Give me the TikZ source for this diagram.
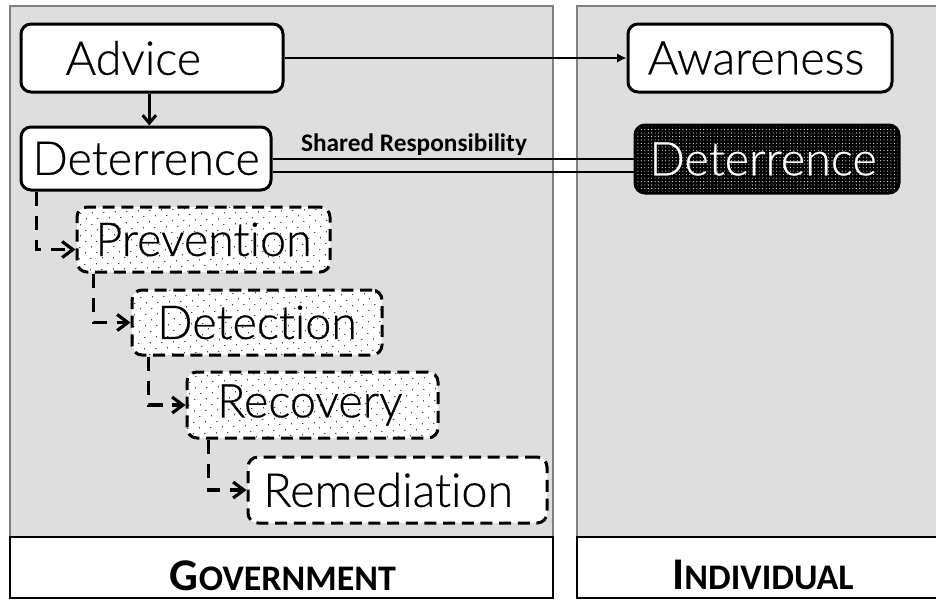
\documentclass[tikz,border=0pt]{standalone}
\usepackage{fontspec}
\setmainfont{Lato}[UprightFont=* Light, UprightFeatures={FakeBold=0.5}, Ligatures=NoCommon]
\newfontfamily\calfont{Carlito}
\usetikzlibrary{arrows.meta,patterns.meta}
\definecolor{panelgray}{HTML}{DEDEDE}
\definecolor{edgegray}{HTML}{808080}
\begin{document}
\begin{tikzpicture}[x=0.75pt,y=-0.75pt,
  panel/.style={fill=panelgray, draw=edgegray, line width=0.8pt},
  labelbox/.style={fill=white, draw=black, line width=2pt},
  box/.style={draw=black, line width=2.25pt, rounded corners=7.5pt, inner sep=0pt, fill=white, font=\fontsize{35}{40}\selectfont},
  dbox/.style={box, dash pattern=on 9pt off 5pt, preaction={fill=white}, pattern={Dots[distance=6.4pt,angle=45,radius=0.5pt]}, pattern color=black},
  darkbox/.style={box, draw=black, preaction={fill=black}, pattern={Dots[distance=2.6pt,radius=0.4pt]}, pattern color=white, text=white},
  arr/.style={line width=2.25pt, -{Straight Barb[length=6pt,width=10pt]}},
  dcon/.style={line width=2.4pt, dash pattern=on 11pt off 7pt, -{Straight Barb[length=8pt,width=12pt]}},
  biglabel/.style={font=\calfont\bfseries, anchor=base}
]
\clip (0,0) rectangle (936,601);
\useasboundingbox (0,0) rectangle (936,601);
% panels
\path[panel] (10,6) rectangle (553,598);
\path[panel] (577,6) rectangle (950,598);
\path[labelbox] (10,537) rectangle (553,598);
\path[labelbox] (577,537) rectangle (950,598);
\node[biglabel] (gov) at (283,590) {{\fontsize{34}{40}\selectfont G}{\fontsize{27}{32}\selectfont OVERNMENT}};
\node[biglabel] (ind) at (763,589) {{\fontsize{34}{40}\selectfont I}{\fontsize{27}{32}\selectfont NDIVIDUAL}};
% boxes
\node[box, minimum width=196.5pt, minimum height=51pt] (adv) at (152,58) {\hspace*{-28pt}Advice};
\node[box, minimum width=187.5pt, minimum height=47.25pt] (det) at (146,158.5) {Deterrence};
\node[box, minimum width=198pt, minimum height=51pt] (awa) at (760,58) {\hspace*{-6pt}Awareness};
\node[darkbox, minimum width=198pt, minimum height=51pt] (idet) at (767,159) {\hspace*{-6pt}Deterrence};
\node[dbox, minimum width=189.75pt, minimum height=48.75pt] (prev) at (203.5,239.5) {Prevention};
\node[dbox, minimum width=187.5pt, minimum height=48.75pt] (detc) at (257,322.5) {Detection};
\node[dbox, minimum width=188.25pt, minimum height=49.5pt] (reco) at (312.5,405) {\hspace*{-4pt}Recovery};
\node[box, dash pattern=on 9pt off 5pt, minimum width=224.25pt, minimum height=49.5pt] (reme) at (397.5,490) {\hspace*{-14pt}Remediation};
% connectors
\draw[arr] ([xshift=-2pt]adv.south) -- ([xshift=-2pt]adv.south |- det.north);
\draw[line width=1.5pt, -{Latex[length=7pt,width=7pt]}] (adv.east) -- (awa.west);
\draw[line width=1.5pt] (det.east) -- (det.east -| idet.west);
\draw[line width=1.5pt] ([yshift=-9.75pt]det.east) -- ([yshift=-9.75pt]det.east -| idet.west);
\node[font=\calfont\bfseries\fontsize{19}{22}\selectfont] (shr) at (414,145) {Shared Responsibility};
\draw[dcon] ([xshift=12.75pt]det.south west) |- ([yshift=-7.5pt]prev.west);
\draw[dcon] ([xshift=13.5pt]prev.south west) |- (detc.west);
\draw[dcon] ([xshift=13.5pt]detc.south west) |- (reco.west);
\draw[dcon] ([xshift=17pt]reco.south west) |- (reme.west);
\end{tikzpicture}
\end{document}
